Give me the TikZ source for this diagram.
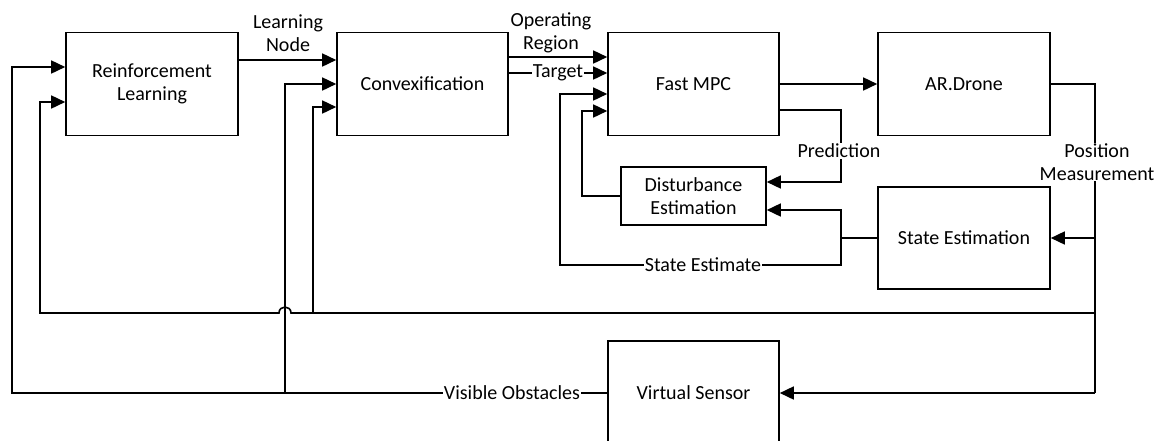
\documentclass[tikz,border=0pt]{standalone}
\usepackage{fontspec}
\setmainfont{Carlito}
\usetikzlibrary{arrows.meta}
\begin{document}
\begin{tikzpicture}[x=1pt,y=-1pt,
  box/.style={draw,line width=1.6pt,inner sep=0pt,font=\fontsize{20}{23.5}\selectfont,align=center},
  wire/.style={line width=1.6pt},
  arr/.style={wire,-{Triangle[length=14pt,width=13pt]}},
  lbl/.style={font=\fontsize{20}{23}\selectfont,align=center,inner sep=1pt},
  onl/.style={lbl,fill=white}]
\clip (0,0) rectangle (1156,440);
\fill[white] (0,0) rectangle (1156,440);
% blocks
\node[box,minimum width=172pt,minimum height=103pt] (rl) at (152,84) {Reinforcement\\Learning};
\node[box,minimum width=171pt,minimum height=103pt] (cv) at (422.5,84) {Convexification};
\node[box,minimum width=171pt,minimum height=103pt] (mpc) at (693.5,84) {Fast MPC};
\node[box,minimum width=172pt,minimum height=103pt] (ar) at (964,84) {AR.Drone};
\node[box,minimum width=145pt,minimum height=58pt] (de) at (693.5,196) {Disturbance\\Estimation};
\node[box,minimum width=172pt,minimum height=102pt] (se) at (964,238) {State Estimation};
\node[box,minimum width=171pt,minimum height=104pt] (vs) at (693.5,393) {Virtual Sensor};
% RL -> Convexification
\draw[arr] (rl.east |- 0,60) -- (cv.west |- 0,60);
\node[lbl] (lLN) at (288,33) {Learning\\Node};
% Convexification -> Fast MPC
\draw[arr] (cv.east |- 0,57) -- (mpc.west |- 0,57);
\node[lbl] (lOR) at (551,33) {Operating\\Region};
\draw[arr] (cv.east |- 0,73) -- node[onl] (lT) {Target} (mpc.west |- 0,73);
% Fast MPC -> AR.Drone
\draw[arr] (mpc.east |- 0,84) -- (ar.west |- 0,84);
% Prediction
\coordinate (pc) at (841,182);
\draw[arr] (mpc.east |- 0,110) -| (pc) -- (de.east |- pc);
\node[onl] (lP) at (839,151) {Prediction};
% State estimation outputs
\coordinate (j1) at (841,238);
\coordinate (j2) at (841,265);
\coordinate (j3) at (560,265);
\draw[wire] (se.west) -- (j1);
\draw[arr] (j1) |- (de.east |- 0,210);
\draw[arr] (j1) -- (j2) -- (j3) |- (mpc.west |- 0,94);
\node[onl] (lSE) at (703,265) {State Estimate};
% Disturbance -> Fast MPC
\coordinate (d1) at (582,111);
\draw[arr] (de.west) -| (d1) -- (mpc.west |- d1);
% Position measurement
\coordinate (p0) at (1095,84);
\coordinate (p1) at (1095,393);
\draw[wire] (ar.east |- p0) -- (p0) -- (p1);
\draw[arr] (p1) -- (vs.east);
\draw[arr] (p0 |- se.east) -- (se.east);
\node[onl] (lPM) at (1097,162) {Position\\Measurement};
% feedback line to learning blocks
\coordinate (b0) at (1095,313);
\coordinate (b1) at (40,313);
\draw[arr] (b0) -- (291,313) .. controls (291,305) and (279,305) .. (279,313) -- (b1) |- (rl.west |- 0,102);
\draw[arr] (313,313) |- (cv.west |- 0,107);
% visible obstacles
\coordinate (v1) at (12,393);
\draw[arr] (vs.west) -- (v1) |- (rl.west |- 0,67);
\draw[arr] (285,393) |- (cv.west |- 0,84);
\node[onl] (lVO) at (512,393) {Visible Obstacles};
\end{tikzpicture}
\end{document}
